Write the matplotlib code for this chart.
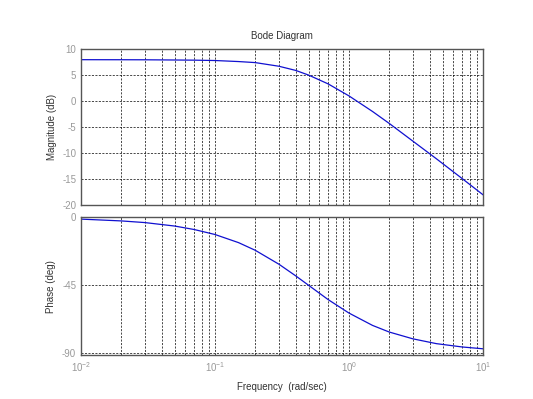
import matplotlib
matplotlib.use('Agg')
import matplotlib.pyplot as plt
from matplotlib.ticker import LogLocator, NullFormatter, FixedLocator

# Values
freq = [0.01, 0.02, 0.03, 0.05, 0.07, 0.1, 0.15, 0.2, 0.3, 0.4,
        0.5, 0.7, 1.0, 1.5, 2.0, 3.0, 4.5, 7.0, 10.0]
magDb = [7.96, 7.95, 7.94, 7.90, 7.87, 7.80, 7.60, 7.40, 6.70, 5.90,
         5.00, 3.30, 1.00, -2.00, -4.30, -7.70, -11.10, -14.90, -18.00]
phaseDeg = [-1.1, -2.3, -3.4, -5.7, -8.0, -11.3, -16.7, -21.8, -31.0, -38.7,
            -45.0, -54.5, -63.4, -71.6, -76.0, -80.5, -83.7, -85.9, -87.1]

magTicks = [-20, -15, -10, -5, 0, 5, 10]
phaseTicks = [-90, -45, 0]

plt.rcParams['font.family'] = ['Liberation Sans', 'DejaVu Sans']
plt.rcParams['font.size'] = 7
plt.rcParams['axes.unicode_minus'] = False

fig = plt.figure(figsize=(5.33, 3.99), dpi=100)
axMag = fig.add_axes([0.152, 0.486, 0.754, 0.391])
axPh = fig.add_axes([0.152, 0.110, 0.754, 0.345])

axMag.semilogx(freq, magDb, color='#1010d0', lw=0.9)
axPh.semilogx(freq, phaseDeg, color='#1010d0', lw=0.9)

for ax in (axMag, axPh):
    ax.set_xlim(0.01, 10)
    ax.xaxis.set_major_locator(LogLocator(base=10))
    ax.xaxis.set_minor_locator(LogLocator(base=10, subs=range(2, 10)))
    ax.xaxis.set_minor_formatter(NullFormatter())
    ax.grid(True, which='both', axis='x', color='black', ls=(0, (3, 2)), lw=0.5)
    ax.grid(True, which='major', axis='y', color='black', ls=(0, (3, 2)), lw=0.5)
    ax.tick_params(which='both', direction='in', length=0, colors='#555555',
                   labelcolor='#999999', labelsize=7)
    for sp in ax.spines.values():
        sp.set_color('#555555')
        sp.set_linewidth(1.0)

axMag.set_ylim(-20, 10)
axMag.yaxis.set_major_locator(FixedLocator(magTicks))
axMag.tick_params(axis='x', which='both', labelbottom=False)
axMag.set_ylabel('Magnitude (dB)', color='#333333')
axMag.set_title('Bode Diagram', color='#333333', fontsize=7, pad=7)

axPh.set_ylim(-91.3, 0)
axPh.yaxis.set_major_locator(FixedLocator(phaseTicks))
axPh.set_ylabel('Phase (deg)', color='#333333')
axPh.set_xlabel('Frequency  (rad/sec)', color='#333333', labelpad=6)

fig.savefig('out.png', dpi=100)
